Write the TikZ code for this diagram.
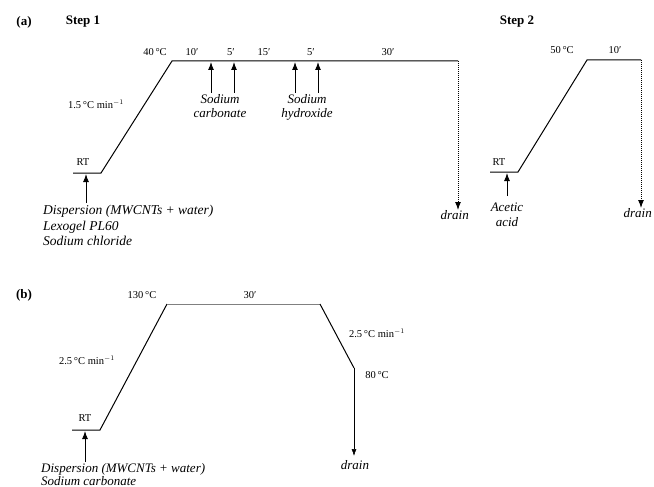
\documentclass[tikz,border=0pt]{standalone}
\usepackage{fontspec}
\setmainfont{Liberation Serif}
\usetikzlibrary{arrows.meta}
\begin{document}
\begin{tikzpicture}[x=1pt,y=-1pt,
  prof/.style={line width=1pt,line join=miter},
  lbl/.style={font=\fontsize{10.5}{12}\selectfont,inner sep=1pt},
  ital/.style={font=\fontsize{13}{14.5}\selectfont\itshape,inner sep=1pt,align=center},
  dispstyle/.style={font=\fontsize{13.5}{15.5}\selectfont\itshape,inner sep=1pt,align=left},
  addarrow/.style={line width=1pt,-{Latex[length=8pt,width=6pt]}},
  drainarrow/.style={line width=1pt,densely dotted,-{Latex[length=8pt,width=6pt]}},
  thinarrow/.style={line width=0.6pt,-{Latex[length=7pt,width=5pt]}},
  ttl/.style={font=\fontsize{13}{14}\selectfont\bfseries,inner sep=1pt}]
\useasboundingbox (0,0) rectangle (654,487);
\fill[white] (0,0) rectangle (654,487);
% ---------- (a) Step 1 ----------
\node[ttl] (pa) at (24,22) {(a)};
\node[ttl] (s1) at (83,22) {Step 1};
\coordinate (a0) at (73,173);
\coordinate (a1) at (101,173);
\coordinate (a2) at (172,61);
\coordinate (a3) at (458,61);
\coordinate (a4) at (458,210);
\draw[prof] (a0) -- (a1) -- (a2) -- (a3);
\draw[drainarrow] (a3) -- (a4);
\node[ital,anchor=north east] (dr1) at (470,209) {drain};
\node[lbl] (t40) at (155,52) {40\,°C};
\node[lbl] (d10) at (192,52) {10′};
\node[lbl] (d5a) at (231,52) {5′};
\node[lbl] (d15) at (264,52) {15′};
\node[lbl] (d5b) at (311,52) {5′};
\node[lbl] (d30) at (388,52) {30′};
\node[lbl] (rt1) at (83,162) {RT};
\node[lbl] (r1) at (96,104) {1.5\,°C min$^{-1}$};
\coordinate (c1) at (211,93); \coordinate (c1t) at (211,62);
\coordinate (c2) at (234,93); \coordinate (c2t) at (234,62);
\coordinate (h1) at (295,93); \coordinate (h1t) at (295,62);
\coordinate (h2) at (318,93); \coordinate (h2t) at (318,62);
\draw[addarrow] (c1) -- (c1t);
\draw[addarrow] (c2) -- (c2t);
\draw[addarrow] (h1) -- (h1t);
\draw[addarrow] (h2) -- (h2t);
\node[ital,anchor=north] (sc1) at (220,93) {Sodium\\carbonate};
\node[ital,anchor=north] (sh1) at (307,93) {Sodium\\hydroxide};
\coordinate (in1) at (86,203); \coordinate (in1t) at (86,174);
\draw[addarrow] (in1) -- (in1t);
\node[dispstyle,anchor=north west] (disp1) at (42,204) {Dispersion (MWCNTs + water)\\Lexogel PL60\\Sodium chloride};
% ---------- Step 2 ----------
\node[ttl] (s2) at (517,22) {Step 2};
\coordinate (b0) at (490,172);
\coordinate (b1) at (518,172);
\coordinate (b2) at (587,60);
\coordinate (b3) at (641,60);
\coordinate (b4) at (641,208);
\draw[prof] (b0) -- (b1) -- (b2) -- (b3);
\draw[drainarrow] (b3) -- (b4);
\node[ital,anchor=north east] (dr2) at (653,207) {drain};
\node[lbl] (t50) at (562,50) {50\,°C};
\node[lbl] (d10b) at (615,50) {10′};
\node[lbl] (rt2) at (499,162) {RT};
\coordinate (in2) at (507,196); \coordinate (in2t) at (507,173);
\draw[addarrow] (in2) -- (in2t);
\node[ital,anchor=north] (aa) at (507,202) {Acetic\\acid};
% ---------- (b) ----------
\node[ttl] (pb) at (24,295) {(b)};
\coordinate (e0) at (72,430);
\coordinate (e1) at (100,430);
\coordinate (e2) at (167,304);
\coordinate (e3) at (320,304);
\coordinate (e4) at (354,368);
\coordinate (e5) at (354,456);
\draw[prof] (e0) -- (e1) -- (e2);
\draw[line width=0.6pt,gray] (e2) -- (e3);
\draw[prof] (e3) -- (e4);
\draw[thinarrow] (e4) -- (e5);
\node[ital,anchor=north] (dr3) at (355,459) {drain};
\node[lbl] (t130) at (142,295) {130\,°C};
\node[lbl] (d30b) at (250,295) {30′};
\node[lbl] (r2) at (87,360) {2.5\,°C min$^{-1}$};
\node[lbl] (r3) at (377,333) {2.5\,°C min$^{-1}$};
\node[lbl] (t80) at (377,375) {80\,°C};
\node[lbl] (rt3) at (85,418) {RT};
\coordinate (in3) at (85,462); \coordinate (in3t) at (85,431);
\draw[addarrow] (in3) -- (in3t);
\node[dispstyle,anchor=south west,font=\fontsize{13}{13.5}\selectfont\itshape] (disp2) at (40,487) {Dispersion (MWCNTs + water)\\Sodium carbonate};
\end{tikzpicture}
\end{document}
